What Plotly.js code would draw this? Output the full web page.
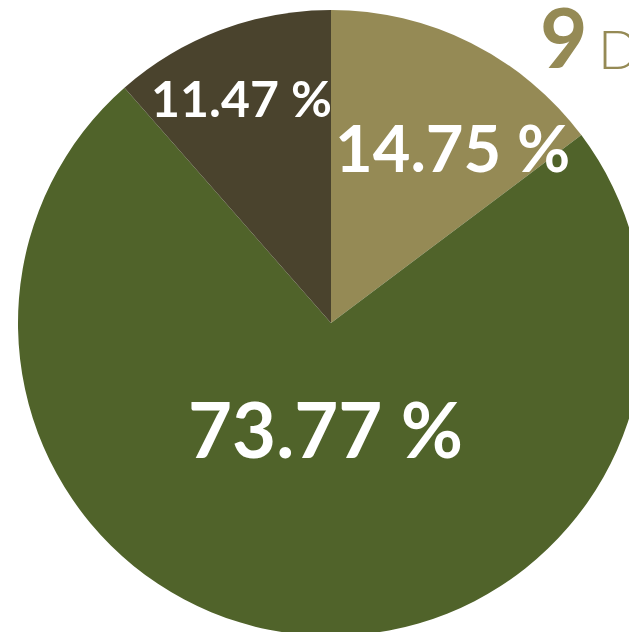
<!DOCTYPE html>
<html>
<head>
<meta charset="utf-8">
<script src="https://cdn.plot.ly/plotly-3.0.1.min.js"></script>
<style>
html,body{margin:0;padding:0;overflow:hidden;background:#fff;width:629px;height:632px;}
#chart{position:absolute;left:0;top:0;}
</style>
</head>
<body>
<div id="chart"></div>
<script>
const labels = ["A", "B", "C"];
const values = [14.75, 73.77, 11.47];
const colors = ["#958A55", "#50632A", "#4A432D"];
const textSizes = [65, 76, 50];
const titleNumber = "9";
const titleLetter = "D";

// layout: pixel centres of the value labels (page pixels)
const labelPos = [[452, 147], [325, 428], [241, 98]];

const W = 662, H = 646, ML = 18, MT = 10, PW = 626, PH = 626;
const px = x => (x - ML) / PW;
const py = y => 1 - (y - MT) / PH;

const trace = {
  type: "pie",
  labels: labels,
  values: values,
  sort: false,
  direction: "clockwise",
  rotation: 0,
  marker: {colors: colors, line: {width: 0}},
  textinfo: "none",
  hoverinfo: "none",
  showlegend: false
};

const annotations = values.map((v, i) => ({
  text: "<b>" + v.toFixed(2) + " %</b>",
  xref: "paper", yref: "paper",
  x: px(labelPos[i][0]), y: py(labelPos[i][1]),
  xanchor: "center", yanchor: "middle", showarrow: false,
  font: {family: "Lato, sans-serif", size: textSizes[i], color: "#ffffff"}
}));
annotations.push(
  {text: "<b>" + titleNumber + "</b>", xref: "paper", yref: "paper", x: px(564), y: py(36),
   xanchor: "center", yanchor: "middle", showarrow: false,
   font: {family: "Lato, sans-serif", size: 82, color: "#958A55"}},
  {text: titleLetter, xref: "paper", yref: "paper", x: px(596), y: py(49),
   xanchor: "left", yanchor: "middle", showarrow: false,
   font: {family: "Lato, sans-serif", size: 54, color: "#958A55", weight: 300}}
);

const layout = {
  width: W,
  height: H,
  margin: {l: ML, r: W - ML - PW, t: MT, b: H - MT - PH, pad: 0},
  paper_bgcolor: "#ffffff",
  showlegend: false,
  annotations: annotations
};

Plotly.newPlot("chart", [trace], layout, {displayModeBar: false, staticPlot: true});
</script>
</body>
</html>
